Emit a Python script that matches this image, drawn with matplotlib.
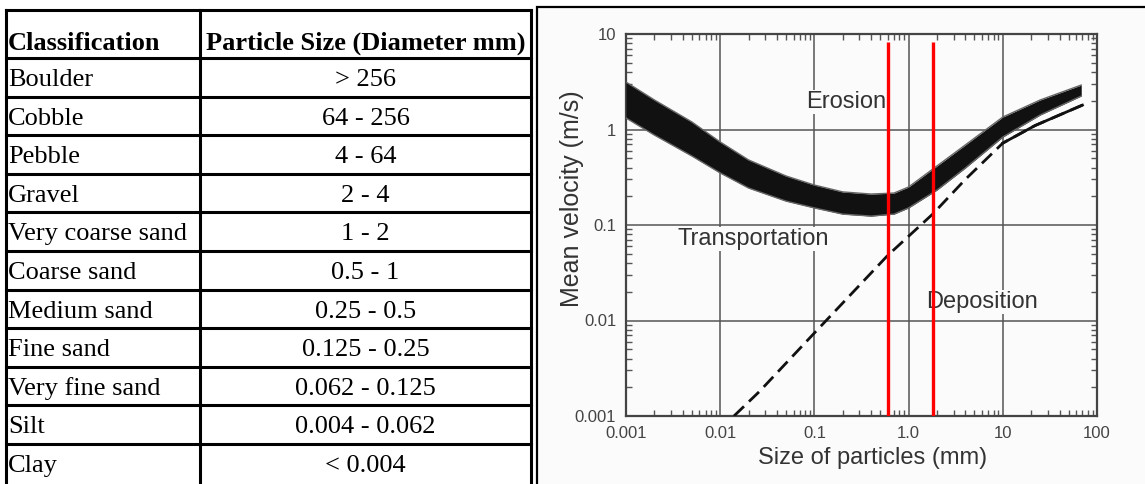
import matplotlib
matplotlib.use("Agg")
import matplotlib.pyplot as plt
from matplotlib.patches import Rectangle
from matplotlib.ticker import LogLocator, NullFormatter

# table data
classes = ["Boulder", "Cobble", "Pebble", "Gravel", "Very coarse sand", "Coarse sand",
           "Medium sand", "Fine sand", "Very fine sand", "Silt", "Clay"]
sizes = ["> 256", "64 - 256", "4 - 64", "2 - 4", "1 - 2", "0.5 - 1", "0.25 - 0.5",
         "0.125 - 0.25", "0.062 - 0.125", "0.004 - 0.062", "< 0.004"]

# Hjulstrom curve
erosion_x = [0.001, 0.002, 0.005, 0.01, 0.02, 0.05, 0.1, 0.2, 0.4, 0.7, 1, 2, 4, 10, 25, 68]
erosion_hi = [3.14, 2.04, 1.20, 0.74, 0.48, 0.326, 0.262, 0.222, 0.211, 0.216, 0.250,
              0.415, 0.689, 1.35, 2.04, 2.92]
erosion_lo = [1.32, 0.875, 0.528, 0.351, 0.244, 0.178, 0.151, 0.130, 0.124, 0.130, 0.151,
              0.232, 0.395, 0.834, 1.42, 2.24]
deposition_x = [0.014, 0.026, 0.1, 0.6, 1.8, 4, 10, 22, 70]
deposition_y = [0.001, 0.0018, 0.0074, 0.048, 0.13, 0.3, 0.72, 1.1, 1.8]
red_x = [0.6, 1.8]

x_ticks = [0.001, 0.01, 0.1, 1, 10, 100]
x_labels = ["0.001", "0.01", "0.1", "1.0", "10", "100"]
y_ticks = [0.001, 0.01, 0.1, 1, 10]
y_labels = ["0.001", "0.01", "0.1", "1", "10"]

fig = plt.figure(figsize=(11.45, 4.84), dpi=100)

# background layer in pixel coordinates (table + picture frame)
bg = fig.add_axes([0, 0, 1, 1])
bg.set_xlim(0, 1145)
bg.set_ylim(484, 0)
bg.axis("off")

bg.add_patch(Rectangle((537, 7), 700, 600, facecolor="#fbfbfb", edgecolor="black", lw=1.6))

serif = "Liberation Serif"
left, mid, right, top, head_bot, row_h = 6, 200, 531, 10, 58, 38.6
lw_tab = 2.2
bg.plot([left, right], [top, top], color="black", lw=lw_tab, solid_capstyle="projecting")
for x in (left, mid, right):
    bg.plot([x, x], [top, 500], color="black", lw=lw_tab)
for i in range(len(classes)):
    y = head_bot + i * row_h
    bg.plot([left, right], [y, y], color="black", lw=lw_tab)

bg.text(8, 50, "Classification", family=serif, weight="bold", fontsize=19, va="baseline")
bg.text((mid + right) / 2, 50, "Particle Size (Diameter mm)", family=serif, weight="bold",
        fontsize=19, va="baseline", ha="center")
for i, (c, s) in enumerate(zip(classes, sizes)):
    y0 = head_bot + i * row_h
    bg.text(8, y0 + 28, c, family=serif, fontsize=19, va="baseline")
    bg.text((mid + right) / 2, y0 + 28, s, family=serif, fontsize=19, va="baseline", ha="center")

# chart
sans = "Liberation Sans"
ax = fig.add_axes([626 / 1145, 68 / 484, 471 / 1145, 382 / 484])
ax.set_facecolor("#fbfbfb")
ax.set_xscale("log")
ax.set_yscale("log")
ax.set_xlim(0.001, 100)
ax.set_ylim(0.001, 10)

ax.grid(which="major", color="#555555", lw=1.1)
ax.set_axisbelow(True)

ax.fill_between(erosion_x, erosion_lo, erosion_hi, color="#111111", lw=0, zorder=3)
ax.plot(erosion_x, erosion_hi, color="#666666", lw=1.0, zorder=3)
ax.plot(erosion_x, erosion_lo, color="#666666", lw=1.0, zorder=3)

ax.plot(deposition_x, deposition_y, color="#111111", lw=2, dashes=(5, 2.5), zorder=3)
ax.plot(deposition_x[6:], deposition_y[6:], color="#111111", lw=2, zorder=3)

ax.vlines(red_x, 0.001, 8.25, color="#ff0000", lw=2.4, zorder=4)

box = dict(facecolor="#fbfbfb", edgecolor="none", pad=1)
ax.text(0.217, 1.94, "Erosion", family=sans, fontsize=17, color="#333333",
        ha="center", va="center", bbox=box, zorder=2)
ax.text(0.0224, 0.0713, "Transportation", family=sans, fontsize=17, color="#333333",
        ha="center", va="center", bbox=box, zorder=2)
ax.text(6.0, 0.0156, "Deposition", family=sans, fontsize=17, color="#333333",
        ha="center", va="center", bbox=box, zorder=2)

ax.set_xticks(x_ticks)
ax.set_xticklabels(x_labels)
ax.set_yticks(y_ticks)
ax.set_yticklabels(y_labels)
ax.xaxis.set_minor_locator(LogLocator(base=10, subs=range(2, 10)))
ax.yaxis.set_minor_locator(LogLocator(base=10, subs=range(2, 10)))
ax.xaxis.set_minor_formatter(NullFormatter())
ax.yaxis.set_minor_formatter(NullFormatter())
ax.tick_params(which="both", direction="in", top=True, right=True, colors="#555555")
ax.tick_params(which="major", length=0, pad=7, labelsize=12, labelcolor="#444444")
ax.tick_params(which="minor", length=4, width=1)
for lab in ax.get_xticklabels() + ax.get_yticklabels():
    lab.set_family(sans)
for sp in ax.spines.values():
    sp.set_color("#444444")
    sp.set_linewidth(1.6)

ax.set_xlabel("Size of particles (mm)", family=sans, fontsize=17, color="#333333", va="center")
ax.xaxis.set_label_coords(0.524, -0.11)
ax.set_ylabel("Mean velocity (m/s)", family=sans, fontsize=18, color="#333333", va="center")
ax.yaxis.set_label_coords(-0.1146, 0.568)

fig.savefig("out.png", dpi=100)
